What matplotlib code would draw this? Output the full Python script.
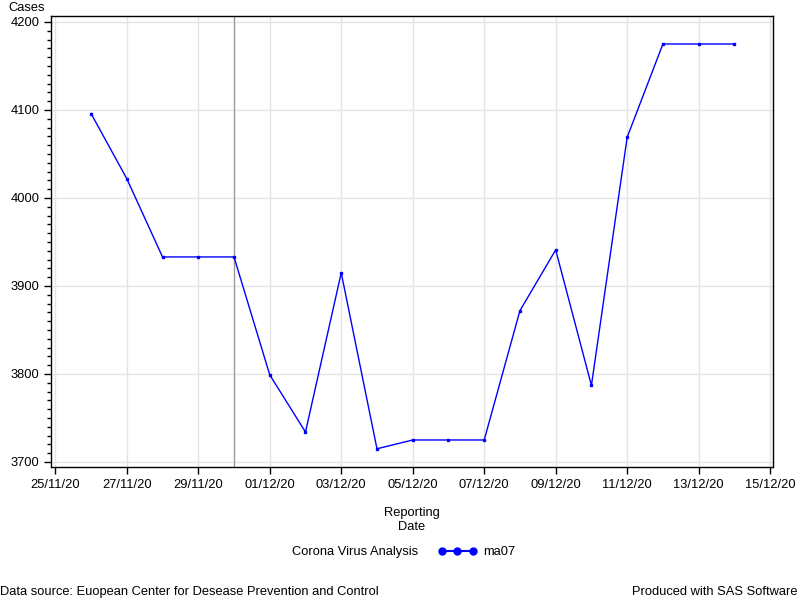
import datetime as dt
import matplotlib
matplotlib.use('Agg')
import matplotlib.pyplot as plt
import matplotlib.dates as mdates
from matplotlib.ticker import MultipleLocator

# data
dates = ['26/11/20', '27/11/20', '28/11/20', '29/11/20', '30/11/20', '01/12/20',
         '02/12/20', '03/12/20', '04/12/20', '05/12/20', '06/12/20', '07/12/20',
         '08/12/20', '09/12/20', '10/12/20', '11/12/20', '12/12/20', '13/12/20',
         '14/12/20']
ma07 = [4096, 4022, 3933, 3933, 3933, 3799, 3734, 3915, 3715, 3725, 3725, 3725,
        3872, 3941, 3787, 4069, 4175, 4175, 4175]
ref_date = '30/11/20'

x = [dt.datetime.strptime(d, '%d/%m/%y') for d in dates]
ref = dt.datetime.strptime(ref_date, '%d/%m/%y')

plt.rcParams['font.family'] = ['Liberation Sans', 'DejaVu Sans']
fs = 9.3

fig = plt.figure(figsize=(8, 6), dpi=100)
ax = fig.add_axes([51 / 800, 1 - 467 / 600, 722 / 800, 451 / 600])

start = dt.datetime(2020, 11, 25)
ax.set_xlim(start - dt.timedelta(days=0.12), start + dt.timedelta(days=20.08))
ax.set_ylim(3694.3, 4206.8)

ax.grid(True, color='#e4e4e4', linewidth=1)
ax.set_axisbelow(True)
ax.axvline(ref, color='#999999', linewidth=1, zorder=2)

ax.plot(x, ma07, color='#0000ff', linewidth=1, marker='s', markersize=1.6, zorder=3)

ticks = [start + dt.timedelta(days=2 * i) for i in range(11)]
ax.set_xticks(ticks)
ax.xaxis.set_major_formatter(mdates.DateFormatter('%d/%m/%y'))
ax.yaxis.set_major_locator(MultipleLocator(100))
ax.yaxis.set_minor_locator(MultipleLocator(10))
ax.tick_params(axis='both', which='major', length=5, width=1, colors='black', labelsize=fs)
ax.tick_params(axis='y', which='minor', length=3, width=1)
for s in ax.spines.values():
    s.set_linewidth(1)

fig.text(8 / 800, 1 - 8 / 600, 'Cases', ha='left', va='center', fontsize=fs)
fig.text(412 / 800, 1 - 520 / 600, 'Reporting\nDate', ha='center', va='center',
         fontsize=fs, linespacing=1.2)

fig.text(418 / 800, 1 - 552 / 600, 'Corona Virus Analysis', ha='right', va='center', fontsize=fs)
h, = ax.plot([], [], color='#0000ff', linewidth=1.5, marker='o', markersize=5)
fig.legend([h], ['ma07'], loc='center left', bbox_to_anchor=(438 / 800, 1 - 552 / 600),
           frameon=False, numpoints=3, handlelength=3.0, handletextpad=0.5,
           fontsize=fs, borderaxespad=0, borderpad=0)

fig.text(0 / 800, 1 - 592 / 600, 'Data source: Euopean Center for Desease Prevention and Control',
         ha='left', va='center', fontsize=fs)
fig.text(798 / 800, 1 - 592 / 600, 'Produced with SAS Software', ha='right', va='center', fontsize=fs)

plt.savefig('out.png', dpi=100)
